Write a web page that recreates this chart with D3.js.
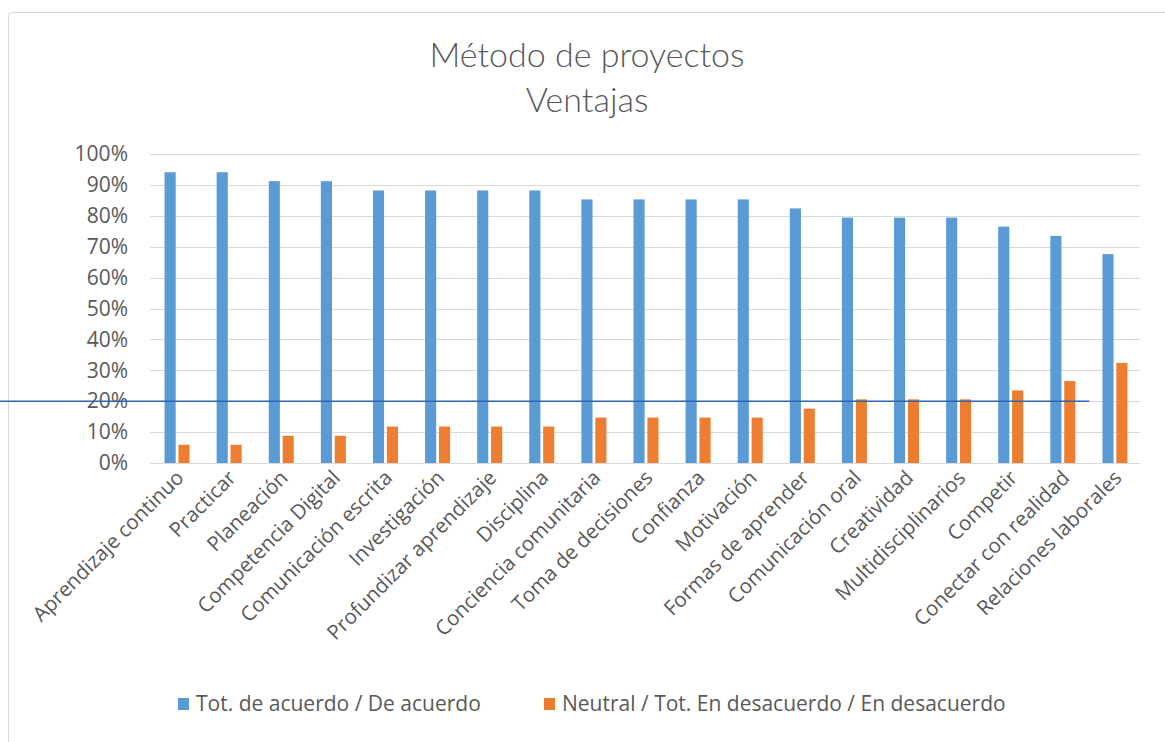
<!DOCTYPE html>
<html>
<head>
<meta charset="utf-8">
<script src="https://cdn.jsdelivr.net/npm/d3@7"></script>
<style>
  body { margin: 0; background: #fff; }
  svg { display: block; }
</style>
</head>
<body>
<svg id="canvas" width="1165" height="742"></svg>
<script>
// categories in chart order
const categories = [
  "Aprendizaje continuo", "Practicar", "Planeación", "Competencia Digital",
  "Comunicación escrita", "Investigación", "Profundizar aprendizaje", "Disciplina",
  "Conciencia comunitaria", "Toma de decisiones", "Confianza", "Motivación",
  "Formas de aprender", "Comunicación oral", "Creatividad", "Multidisciplinarios",
  "Competir", "Conectar con realidad", "Relaciones laborales"
]
// share of respondents
const acuerdo = [
  0.941, 0.941, 0.912, 0.912, 0.882, 0.882, 0.882, 0.882,
  0.853, 0.853, 0.853, 0.853, 0.824, 0.794, 0.794, 0.794,
  0.765, 0.735, 0.676
]
const desacuerdo = [
  0.059, 0.059, 0.088, 0.088, 0.118, 0.118, 0.118, 0.118,
  0.147, 0.147, 0.147, 0.147, 0.176, 0.206, 0.206, 0.206,
  0.235, 0.265, 0.324
]
const seriesNames = ["Tot. de acuerdo / De acuerdo", "Neutral / Tot. En desacuerdo / En desacuerdo"]
const yTicks = [0, 0.1, 0.2, 0.3, 0.4, 0.5, 0.6, 0.7, 0.8, 0.9, 1]
const strayLineValue = 0.2

const colors = ["#5B9BD5", "#ED7D31"]
const textColor = "#595959"
const font = "'Open Sans', sans-serif"

const svg = d3.select('#canvas')

// chart frame
svg.append("rect")
  .attr('x', 8.5).attr('y', 12.5)
  .attr('width', 1160).attr('height', 740)
  .attr('rx', 3)
  .attr('fill', '#fff')
  .attr('stroke', '#d9d9d9')

// title
const title = svg.append("text")
  .attr('x', 587).attr('y', 67)
  .attr('text-anchor', 'middle')
  .attr('fill', textColor)
  .style('font-family', "Lato, sans-serif")
  .style('font-weight', 300)
  .style('font-size', '34px')
title.append("tspan").attr('x', 587).text("Método de proyectos")
title.append("tspan").attr('x', 587).attr('dy', 45).text("Ventajas")

const x0 = d3.scaleBand()
  .domain(categories)
  .range([151, 1141])
  .paddingInner(0.52)
  .paddingOuter(0.26)

const x1 = d3.scaleBand()
  .domain([0, 1])
  .range([0, x0.bandwidth()])
  .paddingInner(0.2)

const y = d3.scaleLinear()
  .domain([0, 1])
  .range([463, 154])

// gridlines
svg.append("g")
  .selectAll('line')
  .data(yTicks)
  .enter()
  .append('line')
  .attr('x1', 150).attr('x2', 1140)
  .attr('y1', d => Math.round(y(d)) + 0.5)
  .attr('y2', d => Math.round(y(d)) + 0.5)
  .attr('stroke', '#d9d9d9')
  .attr('stroke-width', 1)

// y axis labels
const yAxis = svg.append("g")
  .attr('transform', 'translate(150,0)')
  .call(d3.axisLeft(y).tickValues(yTicks).tickFormat(d3.format(".0%")).tickSize(0).tickPadding(22))
yAxis.select('.domain').remove()
yAxis.selectAll('text')
  .attr('fill', textColor)
  .style('font-family', font)
  .style('font-size', '21px')

// bars
const groups = svg.append("g")
  .selectAll('g')
  .data(categories)
  .enter()
  .append('g')
  .attr('transform', d => `translate(${x0(d)},0)`)

groups.selectAll('rect')
  .data((d, i) => [acuerdo[i], desacuerdo[i]])
  .enter()
  .append('rect')
  .attr('x', (d, j) => x1(j))
  .attr('y', d => y(d))
  .attr('width', x1.bandwidth())
  .attr('height', d => y(0) - y(d))
  .attr('fill', (d, j) => colors[j])

// x labels, rotated
const xAxis = svg.append("g")
  .attr('transform', `translate(0,${y(0)})`)
  .call(d3.axisBottom(x0).tickSize(0).tickPadding(0))
xAxis.select('.domain').remove()
xAxis.selectAll('text')
  .attr('text-anchor', 'end')
  .attr('dy', 0)
  .attr('transform', 'translate(8,16) rotate(-45)')
  .attr('fill', textColor)
  .style('font-family', font)
  .style('font-size', '20.5px')

// stray horizontal line across the plot
svg.append('line')
  .attr('x1', 0).attr('x2', x0(categories[categories.length - 2]) + x0.bandwidth() + 14)
  .attr('y1', y(strayLineValue)).attr('y2', y(strayLineValue))
  .attr('stroke', '#2F64B0')
  .attr('stroke-width', 1.5)

// legend
const legend = svg.append("g")
  .selectAll('g')
  .data(seriesNames)
  .enter()
  .append('g')
  .attr('transform', (d, i) => `translate(${[178, 544][i]},704)`)
legend.append('rect')
  .attr('x', 0).attr('y', -6)
  .attr('width', 11).attr('height', 12)
  .attr('fill', (d, i) => colors[i])
legend.append('text')
  .attr('x', 18).attr('y', 7)
  .attr('fill', textColor)
  .style('font-family', font)
  .style('font-size', '21px')
  .text(d => d)
</script>
</body>
</html>
